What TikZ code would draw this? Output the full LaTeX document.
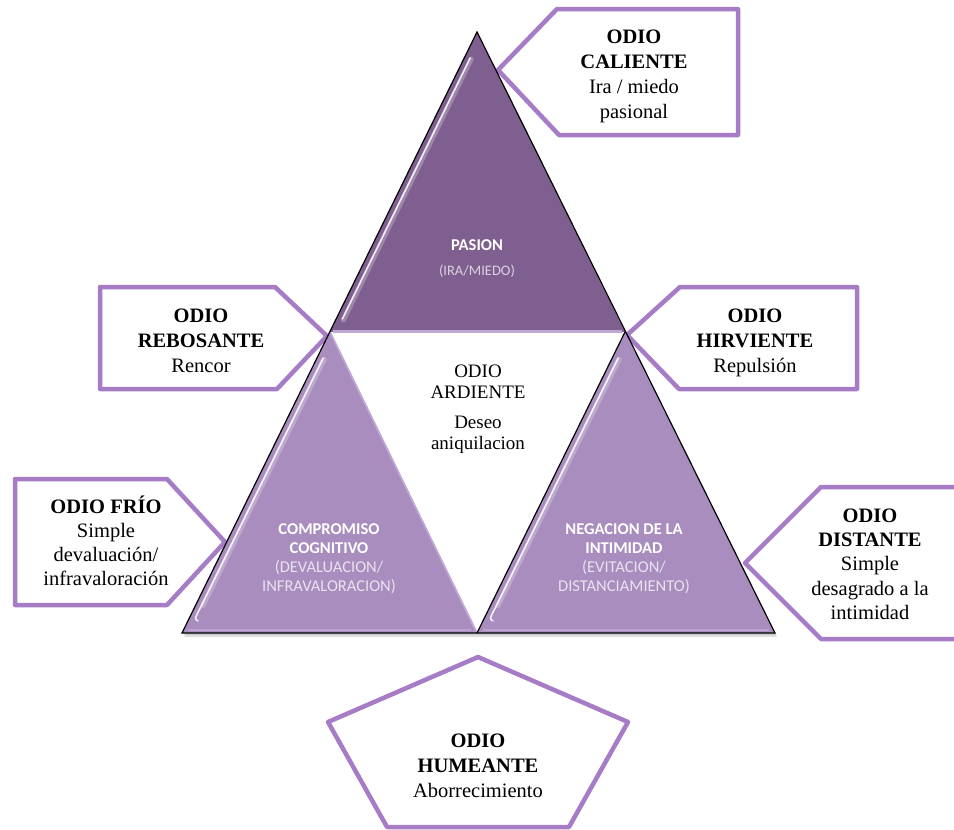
\documentclass[tikz,border=0pt]{standalone}
\usepackage{fontspec}
\setmainfont{Liberation Serif}
\newfontfamily\trifont{Carlito}
\usetikzlibrary{calc}
\definecolor{calloutline}{RGB}{166,124,198}
\definecolor{pasionfill}{RGB}{127,95,144}
\definecolor{basefill}{RGB}{168,141,190}
\definecolor{edgelight}{RGB}{192,168,214}
% invisible strut that fixes the height of a block's first line
\newcommand{\capline}[1]{\rule{0pt}{#1}}

\begin{document}
\begin{tikzpicture}[x=1pt,y=-1pt,
  callout/.style={draw=calloutline, line width=4.5pt, fill=white, line join=round},
  blocktext/.style={align=center, inner sep=0pt, anchor=north,
    font=\fontsize{20.5}{25}\selectfont},
  tritext/.style={align=center, inner sep=0pt, anchor=north, text=white,
    font=\trifont\fontsize{16.5}{19}\selectfont},
  gloss/.style={white, line width=1.6pt, opacity=0.85, line cap=round},
  glow/.style={white, line width=5pt, opacity=0.25, line cap=round},
  outline/.style={black, line width=1.2pt, line join=miter}
]
\useasboundingbox (0,0) rectangle (954,830);

% pyramid vertices
\coordinate (apex) at (477,32);
\coordinate (ml) at (330,332);
\coordinate (mr) at (625,332);
\coordinate (bl) at (182,633);
\coordinate (bm) at (477,633);
\coordinate (br) at (775,633);

% callout tips
\coordinate (tipcal) at (498,70);
\coordinate (tipreb) at (327,336);
\coordinate (tiphir) at (627,335);
\coordinate (tipfri) at (225,542);
\coordinate (tipdis) at (745,563);
\coordinate (tiphum) at (478,657);

% callout frames
\draw[callout] (tipcal) -- (557,9) -- (738,9) -- (738,135) -- (559,135) -- cycle;
\draw[callout] (100,287) -- (275,287) -- (tipreb) -- (277,389) -- (100,389) -- cycle;
\draw[callout] (tiphir) -- (680,287) -- (857,287) -- (857,389) -- (679,389) -- cycle;
\draw[callout] (15,479) -- (167,479) -- (tipfri) -- (167,605) -- (15,605) -- cycle;
\draw[callout] (tipdis) -- (821,487) -- (962,487) -- (962,639) -- (821,639) -- cycle;
\draw[callout] (tiphum) -- (628,722) -- (569,827) -- (387,827) -- (328,722) -- cycle;

% drop shadow of the pyramid
\fill[black, opacity=0.12] ($(bl)+(2,4)$) -- ($(apex)+(2,4)$) -- ($(br)+(2,4)$) -- cycle;
\fill[black, opacity=0.10] ($(bl)+(1,2)$) -- ($(apex)+(1,2)$) -- ($(br)+(1,2)$) -- cycle;

% the three triangles
\fill[pasionfill] (apex) -- (ml) -- (mr) -- cycle;
\fill[basefill] (ml) -- (bl) -- (bm) -- cycle;
\fill[basefill] (mr) -- (bm) -- (br) -- cycle;
\fill[white] (ml) -- (mr) -- (bm) -- cycle;

% glossy highlights
\draw[edgelight, line width=3pt] ($(ml)+(3,-1)$) -- ($(mr)+(-3,-1)$);
\draw[glow] ($(apex)!0.08!(ml)+(6,3)$) -- ($(apex)!0.95!(ml)+(6,3)$);
\draw[gloss] ($(apex)!0.08!(ml)+(5,2)$) -- ($(apex)!0.95!(ml)+(5,2)$);
\draw[glow] ($(ml)!0.08!(bl)+(6,3)$) -- ($(ml)!0.9!(bl)+(6,3)$);
\draw[gloss] ($(ml)!0.08!(bl)+(5,2)$) -- ($(ml)!0.9!(bl)+(5,2)$)
  .. controls ($(ml)!0.95!(bl)+(5,1)$) .. ($(ml)!0.96!(bl)+(10,0)$);
\draw[glow] ($(mr)!0.08!(bm)+(6,3)$) -- ($(mr)!0.9!(bm)+(6,3)$);
\draw[gloss] ($(mr)!0.08!(bm)+(5,2)$) -- ($(mr)!0.9!(bm)+(5,2)$)
  .. controls ($(mr)!0.95!(bm)+(5,1)$) .. ($(mr)!0.96!(bm)+(10,0)$);
\draw[edgelight, line width=1.5pt, opacity=0.8] ($(bl)+(6,-3)$) -- ($(bm)+(-6,-3)$);
\draw[edgelight, line width=1.5pt, opacity=0.8] ($(bm)+(6,-3)$) -- ($(br)+(-6,-3)$);
\draw[edgelight, line width=1.8pt] (ml) -- (bm);

% outlines
\draw[outline] (bl) -- (apex) -- (br) -- cycle;
\draw[outline] (bm) -- (mr);

% texts inside the triangles
\node[tritext] (pasion) at (477,236)
  {\capline{14pt}\textbf{PASION}\\[6pt]{\fontsize{14.5}{19}\selectfont\color{white!72!pasionfill}(IRA/MIEDO)}};
\node[tritext] (compromiso) at (329,520)
  {\capline{14pt}\textbf{COMPROMISO}\\\textbf{COGNITIVO}\\
   {\color{white!75!basefill}(DEVALUACION/}\\{\color{white!75!basefill}INFRAVALORACION)}};
\node[tritext] (negacion) at (624,520)
  {\capline{14pt}\textbf{NEGACION DE LA}\\\textbf{INTIMIDAD}\\
   {\color{white!75!basefill}(EVITACION/}\\{\color{white!75!basefill}DISTANCIAMIENTO)}};

% centre label
\node[blocktext, font=\fontsize{19}{21}\selectfont] (ardiente) at (478,359)
  {\capline{18pt}ODIO\\ARDIENTE\\[9pt]Deseo\\aniquilacion};

% callout labels
\node[blocktext] (caliente) at (634,23)
  {\capline{20pt}\textbf{ODIO}\\\textbf{CALIENTE}\\Ira / miedo\\pasional};
\node[blocktext] (rebosante) at (201,302)
  {\capline{20pt}\textbf{ODIO}\\\textbf{REBOSANTE}\\Rencor};
\node[blocktext] (hirviente) at (755,302)
  {\capline{20pt}\textbf{ODIO}\\\textbf{HIRVIENTE}\\Repulsión};
\node[blocktext, font=\fontsize{20.5}{24}\selectfont] (frio) at (106,493)
  {\capline{20pt}\textbf{ODIO FRÍO}\\Simple\\devaluación/\\infravaloración};
\node[blocktext, font=\fontsize{20.5}{24.3}\selectfont] (distante) at (870,502)
  {\capline{20pt}\textbf{ODIO}\\\textbf{DISTANTE}\\Simple\\desagrado a la\\intimidad};
\node[blocktext] (humeante) at (478,727)
  {\capline{20pt}\textbf{ODIO}\\\textbf{HUMEANTE}\\Aborrecimiento};
\end{tikzpicture}
\end{document}
